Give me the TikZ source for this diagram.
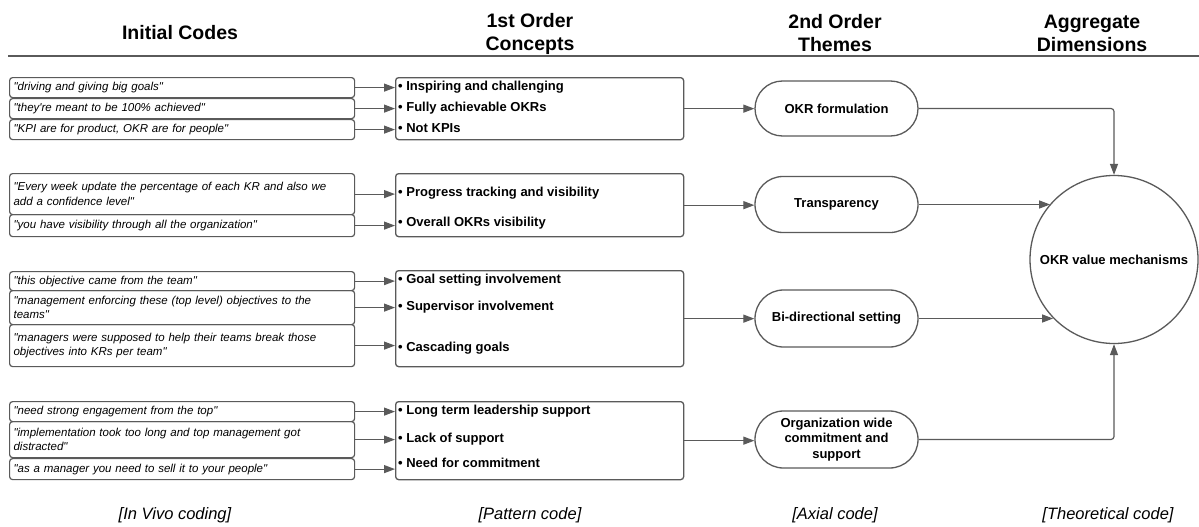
\documentclass[tikz,border=0pt]{standalone}
\usepackage{fontspec}
\setmainfont{Liberation Sans}[Ligatures=TeXOff]
\usetikzlibrary{arrows.meta,shapes.misc,shapes.geometric}
\definecolor{ln}{RGB}{90,90,90}
\begin{document}
\begin{tikzpicture}[x=1pt,y=-1pt,
 qbox/.style={draw=ln,line width=1.2pt,rounded corners=3pt,anchor=north west,minimum width=345pt,text width=337pt,align=left,inner sep=4pt,font=\fontsize{11.5}{14.5}\selectfont\itshape},
 cbox/.style={draw=ln,line width=1.3pt,rounded corners=3pt,anchor=north west,minimum width=288pt},
 item/.style={anchor=west,inner sep=0pt,font=\fontsize{13}{15}\selectfont\bfseries},
 theme/.style={draw=ln,line width=1.3pt,rounded rectangle,minimum width=167pt,minimum height=56pt,align=center,inner sep=2pt,font=\fontsize{13}{15.5}\selectfont\bfseries},
 head/.style={align=center,font=\fontsize{19.5}{23}\selectfont\bfseries},
 foot/.style={font=\fontsize{16.5}{19}\selectfont\itshape},
 arr/.style={draw=ln,line width=1.2pt,-{Triangle[length=11pt,width=8pt]}},
]
\fill[white] (0,0) rectangle (1199,527);
\useasboundingbox (0,0) rectangle (1199,527);

% headers
\node[head] (h1) at (180,33) {Initial Codes};
\node[head] (h2) at (530,33.5) {1st Order\\Concepts};
\node[head] (h3) at (835,33.5) {2nd Order\\Themes};
\node[head] (h4) at (1092,33.5) {Aggregate\\Dimensions};
\coordinate (rl) at (8,56);
\coordinate (rr) at (1199,56);
\draw[ln,line width=1.5pt] (rl) -- (rr);

% group 1
\node[qbox,minimum height=20pt] (q1) at (9,77) {"driving and giving big goals"};
\node[qbox,minimum height=20pt] (q2) at (9,98) {"they're meant to be 100\% achieved"};
\node[qbox,minimum height=20pt] (q3) at (9,119) {"KPI are for product, OKR are for people"};
\node[cbox,minimum height=62pt] (c1) at (395,77) {};
\node[item] (i11) at (398,87) {• Inspiring and challenging};
\node[item] (i12) at (398,108) {• Fully achievable OKRs};
\node[item] (i13) at (398,128) {• Not KPIs};

% group 2
\node[qbox,minimum height=41pt] (q4) at (9,173) {"Every week update the percentage of each KR and also we\\add a confidence level"};
\node[qbox,minimum height=22pt] (q5) at (9,214) {"you have visibility through all the organization"};
\node[cbox,minimum height=63pt] (c2) at (395,173) {};
\node[item] (i21) at (398,193) {• Progress tracking and visibility};
\node[item] (i22) at (398,223) {• Overall OKRs visibility};

% group 3
\node[qbox,minimum height=19pt] (q6) at (9,271) {"this objective came from the team"};
\node[qbox,minimum height=34pt] (q7) at (9,290) {"management enforcing these (top level) objectives to the\\teams"};
\node[qbox,minimum height=42pt] (q8) at (9,324) {"managers were supposed to help their teams break those\\objectives into KRs per team"};
\node[cbox,minimum height=96pt] (c3) at (395,270) {};
\node[item] (i31) at (398,280) {• Goal setting involvement};
\node[item] (i32) at (398,307) {• Supervisor involvement};
\node[item] (i33) at (398,348) {• Cascading goals};

% group 4
\node[qbox,minimum height=20pt] (q9) at (9,401) {"need strong engagement from the top"};
\node[qbox,minimum height=36pt] (q10) at (9,421) {"implementation took too long and top management got\\distracted"};
\node[qbox,minimum height=21pt] (q11) at (9,458) {"as a manager you need to sell it to your people"};
\node[cbox,minimum height=78pt] (c4) at (395,401) {};
\node[item] (i41) at (398,411) {• Long term leadership support};
\node[item] (i42) at (398,439) {• Lack of support};
\node[item] (i43) at (398,463) {• Need for commitment};

% themes
\node[theme,minimum height=55pt] (t1) at (836.5,108.5) {OKR formulation};
\node[theme] (t2) at (836.5,204.5) {Transparency};
\node[theme,minimum height=57pt] (t3) at (836.5,318.5) {Bi-directional setting};
\node[theme,minimum height=57pt] (t4) at (836.5,439.5) {Organization wide\\commitment and\\support};

% aggregate
\node[draw=ln,line width=1.3pt,circle,minimum size=168pt,inner sep=0pt,font=\fontsize{13}{15}\selectfont\bfseries] (v) at (1114,259.5) {OKR value mechanisms};

% footers
\node[foot] (f1) at (175,515) {[In Vivo coding]};
\node[foot] (f2) at (530,515) {[Pattern code]};
\node[foot] (f3) at (835,515) {[Axial code]};
\node[foot] (f4) at (1108,515) {[Theoretical code]};

% arrows: quotes -> concepts
\foreach \q/\c in {q1/c1,q2/c1,q3/c1,q4/c2,q5/c2,q6/c3,q7/c3,q8/c3,q9/c4,q10/c4,q11/c4}
  \draw[arr] (\q.east) -- (\q.east -| \c.west);

% concepts -> themes
\draw[arr] (c1.east) -- (c1.east -| t1.west);
\draw[arr] (c2.east) -- (c2.east -| t2.west);
\draw[arr] (c3.east) -- (c3.east -| t3.west);
\draw[arr] (c4.east) -- (c4.east -| t4.west);

% themes -> aggregate
\draw[arr,rounded corners=3pt] (t1.east) -| (v.north);
\draw[arr] (t2.east) -- (t2.east -| v.139.7);
\draw[arr] (t3.east) -- (t3.east -| v.224);
\draw[arr,rounded corners=3pt] (t4.east) -| (v.south);
\end{tikzpicture}
\end{document}
